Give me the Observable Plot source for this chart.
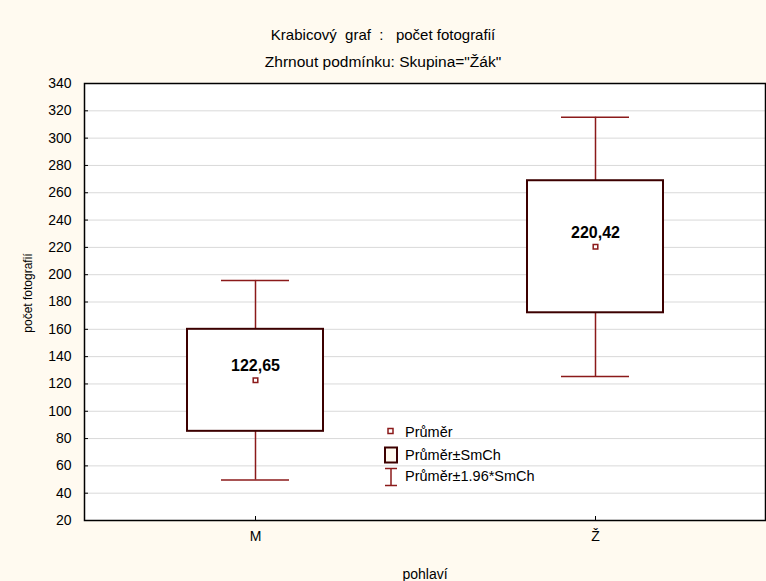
<!DOCTYPE html>
<html>
<head>
<meta charset="utf-8">
<script src="https://cdn.jsdelivr.net/npm/d3@7"></script>
<script src="https://cdn.jsdelivr.net/npm/@observablehq/plot@0.6"></script>
<style>
  html, body { margin: 0; padding: 0; background: #FFFAF0; }
  #wrap { position: relative; width: 766px; height: 581px; overflow: hidden; background: #FFFAF0;
          font-family: "Liberation Sans", Arial, sans-serif; color: #000; }
  #title { position: relative; height: 70px; }
  #title div { position: absolute; left: 0; width: 766px; text-align: center;
               line-height: 18px; white-space: pre; }
  #legend span { position: absolute; font-size: 14.5px; line-height: 16px; white-space: pre; }
  #chart svg { display: block; }
</style>
</head>
<body>
<div id="wrap">
  <div id="title">
    <div style="top:26px; font-size:15px">Krabicový  graf  :   počet fotografií</div>
    <div style="top:53px; font-size:15.5px">Zhrnout podmínku: Skupina="Žák"</div>
  </div>
  <div id="chart"></div>
  <div id="legend"></div>
</div>
<script>
// ---- data ----
const categories = ["M", "Ž"];
const means = [122.65, 220.42];
const meanLabels = ["122,65", "220,42"];
const boxLow = [85.3, 172.1];      // Průměr - SmCh
const boxHigh = [160.0, 268.8];    // Průměr + SmCh
const whiskerLow = [49.6, 125.5];  // Průměr - 1.96*SmCh
const whiskerHigh = [195.8, 315.3];// Průměr + 1.96*SmCh
const yTicks = [20, 40, 60, 80, 100, 120, 140, 160, 180, 200, 220, 240, 260, 280, 300, 320, 340];
const xLabel = "pohlaví";
const yLabel = "počet fotografií";
const legendLabels = ["Průměr", "Průměr±SmCh", "Průměr±1.96*SmCh"];

const rows = categories.map((c, i) => ({
  cat: c, mean: means[i], label: meanLabels[i],
  lo: boxLow[i], hi: boxHigh[i], wlo: whiskerLow[i], whi: whiskerHigh[i]
}));

const red = "#8B1A1A";
const boxStroke = "#3C0000";

const chart = Plot.plot({
  width: 766,
  height: 511,
  marginLeft: 84,
  marginRight: 1,
  marginTop: 13,
  marginBottom: 61,
  style: { background: "transparent", fontFamily: "Liberation Sans, Arial, sans-serif", fontSize: "14px", color: "#000" },
  x: { type: "band", domain: categories, paddingInner: 0.6, paddingOuter: 0.3 },
  y: { domain: [20, 340] },
  marks: [
    Plot.frame({ fill: "white", stroke: null }),
    Plot.gridY(yTicks, { stroke: "#d9d9d9", strokeOpacity: 1, strokeWidth: 1 }),
    Plot.axisY(yTicks, { tickSize: -4, tickPadding: 17, label: null, tickFormat: d => String(d) }),
    Plot.axisX({ tickSize: -4, tickPadding: 15, label: xLabel, labelAnchor: "center",
                 labelOffset: 58, labelArrow: "none" }),
    Plot.text([yLabel], { frameAnchor: "left", textAnchor: "middle", lineAnchor: "middle",
                          text: d => d, rotate: -90, dx: -56, dy: -9, fontSize: 12, fill: "#000" }),
    // whiskers
    Plot.ruleX(rows, { x: "cat", y1: "wlo", y2: "whi", stroke: red, strokeWidth: 1.5 }),
    Plot.tickY(rows, { x: "cat", y: "wlo", stroke: red, strokeWidth: 1.5, insetLeft: 34, insetRight: 34 }),
    Plot.tickY(rows, { x: "cat", y: "whi", stroke: red, strokeWidth: 1.5, insetLeft: 34, insetRight: 34 }),
    // boxes
    Plot.barY(rows, { x: "cat", y1: "lo", y2: "hi", fill: "white", stroke: boxStroke, strokeWidth: 2 }),
    // mean markers
    Plot.dot(rows, { x: "cat", y: "mean", symbol: "square", r: 2.6, fill: "white", stroke: red, strokeWidth: 1.5 }),
    Plot.text(rows, { x: "cat", y: "mean", text: "label", dy: -14, fontSize: 16, fontWeight: "bold",
                      fill: "#000", ariaLabel: "mean-label" }),
    Plot.frame({ stroke: "#000", strokeWidth: 1.5 })
  ]
});
document.getElementById("chart").appendChild(chart);
d3.select(chart).selectAll('g[aria-label="mean-label"] text').style("letter-spacing", "-0.5px");

// ---- legend (drawn over the plot area) ----
const legend = document.getElementById("legend");
const ns = "http://www.w3.org/2000/svg";
const icons = document.createElementNS(ns, "svg");
icons.setAttribute("width", 30);
icons.setAttribute("height", 75);
icons.style.position = "absolute";
icons.style.left = "380px";
icons.style.top = "420px";
icons.innerHTML =
  `<rect x="8" y="8.5" width="5" height="5" fill="white" stroke="${red}" stroke-width="1.5"/>` +
  `<rect x="5" y="27.5" width="12" height="15" fill="#FFFAF0" stroke="${boxStroke}" stroke-width="2"/>` +
  `<line x1="11" x2="11" y1="48.5" y2="65.5" stroke="${red}" stroke-width="1.5"/>` +
  `<line x1="5" x2="17" y1="48.5" y2="48.5" stroke="${red}" stroke-width="1.5"/>` +
  `<line x1="5" x2="17" y1="65.5" y2="65.5" stroke="${red}" stroke-width="1.5"/>`;
legend.appendChild(icons);
const textCenters = [432, 455, 476];
legendLabels.forEach((t, i) => {
  const s = document.createElement("span");
  s.textContent = t;
  s.style.left = "405px";
  s.style.top = (textCenters[i] - 8) + "px";
  legend.appendChild(s);
});
</script>
</body>
</html>
